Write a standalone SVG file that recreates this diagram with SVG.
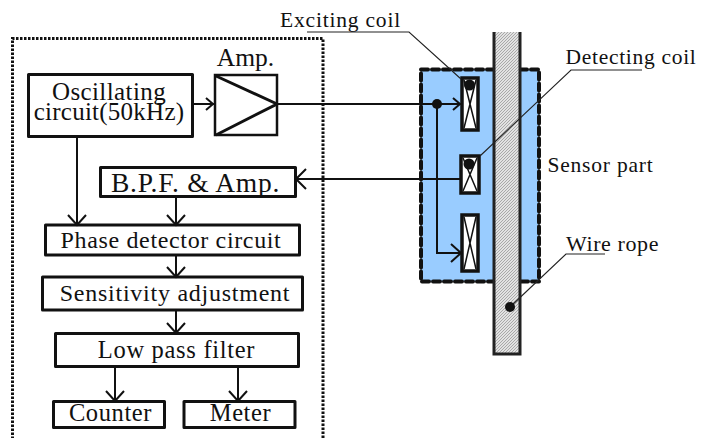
<svg xmlns="http://www.w3.org/2000/svg" width="707" height="438" viewBox="0 0 707 438">
<style>
text{font-family:"Liberation Serif","Times New Roman",serif;fill:#111;text-anchor:middle}
.b{fill:#fff;stroke:#111;stroke-width:3;stroke-linejoin:round}
.w{fill:none;stroke:#111;stroke-width:2;marker-end:url(#a)}
.s{fill:none;stroke:#111;stroke-width:2;marker-end:url(#m)}
.n{fill:none;stroke:#111;stroke-width:2}
.l{fill:none;stroke:#222;stroke-width:1.1}
.c{fill:#fff;stroke:#111;stroke-width:3.5}
.x{fill:none;stroke:#111;stroke-width:1.5}
</style>
<defs>
<marker id="a" markerUnits="userSpaceOnUse" markerWidth="14" markerHeight="22" refX="11" refY="10" orient="auto"><path d="M1 1L11 10L1 19" fill="none" stroke="#111" stroke-width="2"/></marker>
<marker id="m" markerUnits="userSpaceOnUse" markerWidth="12" markerHeight="16" refX="9" refY="7" orient="auto"><path d="M1 1L8 7L1 13" fill="none" stroke="#111" stroke-width="2"/></marker>
<pattern id="h" width="3" height="3" patternUnits="userSpaceOnUse"><rect width="3" height="3" fill="#e2e2e2"/><path d="M0 3L3 0" stroke="#999" stroke-width="0.8"/></pattern>
</defs>
<g id="controller-frame"><path d="M323 438V38.500H12.500V438" fill="none" stroke="#111" stroke-width="3" stroke-dasharray="2.500 1.500"/></g>
<g id="sensor-part"><rect x="421" y="69.500" width="118" height="212" fill="#99ccff" stroke="#111" stroke-width="4" stroke-dasharray="7 4" stroke-linecap="round"/><text x="600.500" y="172" style="font-size:21.500px;letter-spacing:.8px">Sensor part</text></g>
<g id="wire-rope"><path d="M494 32V354H520V32" fill="url(#h)" stroke="#222" stroke-width="3"/><text x="612.500" y="251" style="font-size:22px;letter-spacing:.6px">Wire rope</text></g>
<g id="oscillating"><rect class="b" x="28.500" y="74.500" width="164" height="62"/><text x="109" y="100" style="font-size:25px;letter-spacing:.4px">Oscillating</text><text x="109" y="120" style="font-size:25px;letter-spacing:.25px">circuit(50kHz)</text></g>
<g id="amp"><rect x="215" y="75" width="62" height="60" fill="#fff" stroke="#111" stroke-width="2.500"/><path d="M216 76L277 104L216 135" fill="none" stroke="#111" stroke-width="3"/><text x="245.500" y="66" style="font-size:25.500px">Amp.</text></g>
<g id="bpf"><rect class="b" x="100.500" y="167.500" width="195" height="29"/><text x="195.500" y="192" style="font-size:27.500px;letter-spacing:.7px">B.P.F. &amp; Amp.</text></g>
<g id="phase"><rect class="b" x="45.500" y="225" width="254" height="30"/><text x="171" y="248" style="font-size:24px;letter-spacing:.65px">Phase detector circuit</text></g>
<g id="sensitivity"><rect class="b" x="42.500" y="277" width="260" height="33"/><text x="175" y="301" style="font-size:24px;letter-spacing:.75px">Sensitivity adjustment</text></g>
<g id="lowpass"><rect class="b" x="55.500" y="333.500" width="243" height="33"/><text x="176.500" y="358" style="font-size:24.500px;letter-spacing:.7px">Low pass filter</text></g>
<g id="counter"><rect class="b" x="53.500" y="401.500" width="111" height="26"/><text x="110.500" y="421" style="font-size:24.500px;letter-spacing:.6px">Counter</text></g>
<g id="meter"><rect class="b" x="184" y="401.500" width="111" height="26"/><text x="240.500" y="421" style="font-size:24.500px;letter-spacing:.6px">Meter</text></g>
<g id="exciting-coil"><rect class="c" x="462" y="78" width="16" height="52"/><path class="x" d="M464 80L476 128M476 80L464 128"/><circle cx="469.500" cy="85" r="5.500" fill="#111"/><text x="340.500" y="27" style="font-size:21.500px;letter-spacing:.8px">Exciting coil</text></g>
<g id="detecting-coil"><rect class="c" x="461" y="156" width="18" height="37"/><path class="x" d="M463 158L477 191M477 158L463 191"/><circle cx="469" cy="164" r="5.500" fill="#111"/><text x="631" y="64" style="font-size:21.500px;letter-spacing:.7px">Detecting coil</text></g>
<g id="third-coil"><rect class="c" x="462" y="215" width="16" height="56"/><path class="x" d="M464 217L476 269M476 217L464 269"/></g>
<g id="connectors">
<path class="s" d="M192 104H214"/>
<path class="n" d="M277 104H437"/>
<path class="s" d="M437 104H461"/>
<path class="w" d="M437 104V253H461"/>
<circle cx="437" cy="104" r="5" fill="#111"/>
<path class="n" d="M460 179H296"/>
<path d="M306 169L296 179L306 189" class="n"/>
<path class="w" d="M77 136V225"/>
<path class="w" d="M176 196V225"/>
<path class="w" d="M176 255V277"/>
<path class="w" d="M176 310V333"/>
<path class="w" d="M115 367V401"/>
<path class="w" d="M238 367V401"/>
<path class="l" d="M307 32H409L461 79"/>
<path class="l" d="M642 70H571L480 156"/>
<path class="l" d="M605 254H566L510 307"/>
<circle cx="510" cy="307" r="5" fill="#111"/>
</g>
</svg>
